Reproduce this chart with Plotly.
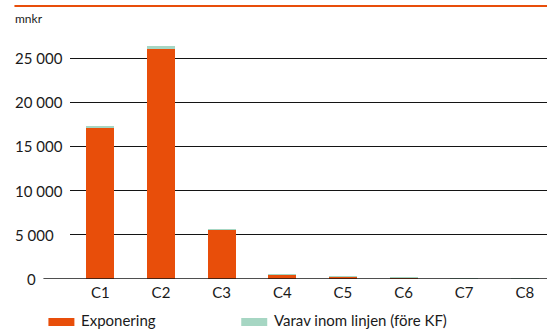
import plotly.graph_objects as go

categories = ["C1", "C2", "C3", "C4", "C5", "C6", "C7", "C8"]
exponering = [17100, 26000, 5550, 520, 260, 150, 60, 50]
varav_inom_linjen = [250, 350, 80, 5, 5, 5, 5, 5]
series_names = ["Exponering", "Varav inom linjen (före KF)"]
y_tick_values = [0, 5000, 10000, 15000, 20000, 25000]
y_tick_labels = ["0", "5 000", "10 000", "15 000", "20 000", "25 000"]
unit_label = "mnkr"

ORANGE = "#E84E0A"
GREEN = "#A6D6C3"
GRID = "#141414"
TEXT = "#1a1a1a"
FONT = "Lato, 'Open Sans', sans-serif"

W, H = 547, 329
L, R, T, B = 69.6, 0, 36, 50
pw, ph = W - L - R, H - T - B

def px_x(x):
    return (x - L) / pw

def px_y(y):
    return (H - B - y) / ph

fig = go.Figure()
fig.add_trace(go.Bar(x=categories, y=exponering, name=series_names[0],
                     marker=dict(color=ORANGE, line=dict(width=0)), width=0.46))
fig.add_trace(go.Bar(x=categories, y=varav_inom_linjen, name=series_names[1],
                     marker=dict(color=GREEN, line=dict(width=0)), width=0.46))

fig.update_layout(
    width=W, height=H, barmode="stack", showlegend=False,
    margin=dict(l=L, r=R, t=T, b=B, pad=0),
    paper_bgcolor="white", plot_bgcolor="white",
    font=dict(family=FONT, size=15, color=TEXT),
    xaxis=dict(range=[-0.5, 7.365], showgrid=False, zeroline=False, showline=False,
               ticks="", tickfont=dict(size=15), ticklabelstandoff=3, fixedrange=True),
    yaxis=dict(range=[0, 27500], tickvals=y_tick_values, showticklabels=False,
               showgrid=True, gridcolor=GRID, gridwidth=1,
               zeroline=False, showline=False, ticks="", fixedrange=True),
)

# y tick labels: multi-digit labels start at a common left edge, "0" sits by the long zero line
for v, lab in zip(y_tick_values, y_tick_labels):
    if v == 0:
        fig.add_annotation(text=lab, xref="paper", yref="y", x=px_x(38), y=v,
                           xanchor="right", yanchor="middle", showarrow=False,
                           font=dict(size=15, family=FONT, color=TEXT))
    else:
        fig.add_annotation(text=lab, xref="paper", yref="y", x=px_x(12.5), y=v,
                           xanchor="left", yanchor="middle", showarrow=False,
                           font=dict(size=15, family=FONT, color=TEXT))

# zero line extended to the left
fig.add_shape(type="line", xref="paper", yref="y", x0=px_x(43), x1=1, y0=0, y1=0,
              line=dict(color=GRID, width=1.3), layer="above")
# top orange rule
fig.add_shape(type="line", xref="paper", yref="paper", x0=px_x(14), x1=1,
              y0=px_y(6), y1=px_y(6), line=dict(color=ORANGE, width=2))
# unit label
fig.add_annotation(text=unit_label, xref="paper", yref="paper", x=px_x(12.5), y=px_y(19),
                   xanchor="left", yanchor="middle", showarrow=False,
                   font=dict(size=12, family=FONT, color=TEXT))

# legend
legend_items = [(series_names[0], ORANGE, 48), (series_names[1], GREEN, 241)]
for name, col, x0 in legend_items:
    fig.add_shape(type="rect", xref="paper", yref="paper",
                  x0=px_x(x0), x1=px_x(x0 + 26), y0=px_y(326), y1=px_y(318),
                  fillcolor=col, line=dict(width=0))
    fig.add_annotation(text=name, xref="paper", yref="paper", x=px_x(x0 + 31), y=px_y(320),
                       xanchor="left", yanchor="middle", showarrow=False,
                       font=dict(size=15, family=FONT, color=TEXT))

fig.write_html("out.html", config={"displayModeBar": False})
